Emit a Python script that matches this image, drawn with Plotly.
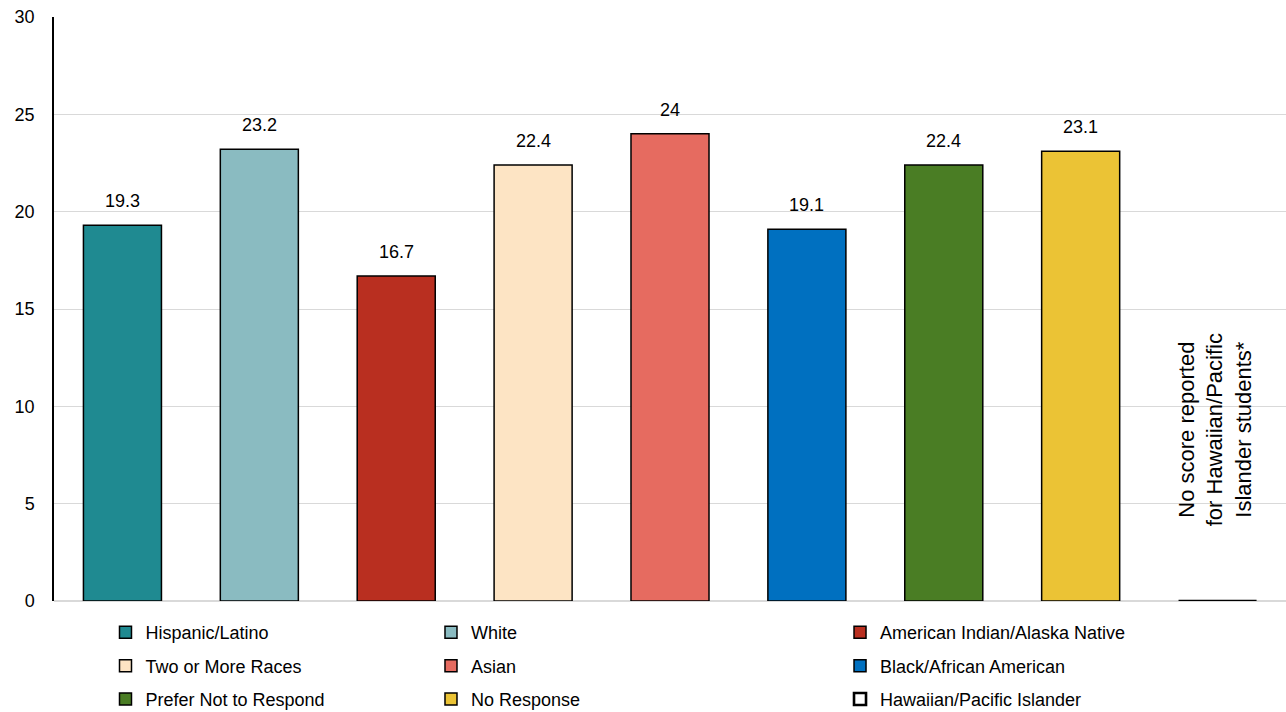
import plotly.graph_objects as go

# Category order along the x axis
groups = [
    "Hispanic/Latino", "White", "American Indian/Alaska Native",
    "Two or More Races", "Asian", "Black/African American",
    "Prefer Not to Respond", "No Response", "Hawaiian/Pacific Islander",
]
scores = [19.3, 23.2, 16.7, 22.4, 24.0, 19.1, 22.4, 23.1, 0.0]
score_labels = ["19.3", "23.2", "16.7", "22.4", "24", "19.1", "22.4", "23.1", ""]
colors = ["#1f8a91", "#8abbc1", "#b92f20", "#fde4c4", "#e66b60",
          "#0070c0", "#4a7d24", "#ebc335", "#ffffff"]
# legend column for each group (three columns, three rows)
legend_cols = ["legend", "legend2", "legend3", "legend", "legend2",
               "legend3", "legend", "legend2", "legend3"]
outline_widths = [1.5, 1.5, 1.5, 1.5, 1.5, 1.5, 1.5, 1.5, 2.6]

FONT = "Liberation Sans, Arial, sans-serif"

fig = go.Figure()
for i, g in enumerate(groups):
    fig.add_trace(go.Bar(
        x=[g], y=[scores[i]], name=g,
        marker=dict(color=colors[i],
                    line=dict(color="#000000", width=outline_widths[i])),
        width=0.57,
        legend=legend_cols[i], legendgroup=g,
    ))
    # value label above each bar
    if score_labels[i]:
        fig.add_annotation(
            x=g, y=scores[i], xref="x", yref="y", text=score_labels[i],
            showarrow=False, yanchor="bottom", yshift=12,
            font=dict(size=18, color="#000000", family=FONT),
        )

fig.add_annotation(
    x=groups[-1], y=8.8, xref="x", yref="y", xshift=-3,
    text="No score reported<br>for Hawaiian/Pacific<br>Islander students*",
    textangle=-90, showarrow=False,
    font=dict(size=22, color="#000000", family=FONT),
)

legend_style = dict(
    orientation="v", yanchor="top", xanchor="left",
    yref="container", y=0.1376,
    font=dict(size=18, color="#000000", family=FONT),
    bgcolor="rgba(0,0,0,0)", tracegroupgap=7, itemwidth=30,
)

fig.update_layout(
    width=1286, height=712,
    margin=dict(l=54, r=0, t=17, b=111),
    paper_bgcolor="#ffffff", plot_bgcolor="#ffffff",
    barmode="overlay", bargap=0.43,
    font=dict(family=FONT, size=18, color="#000000"),
    showlegend=True,
    legend=dict(legend_style, x=0.0418),
    legend2=dict(legend_style, x=0.306),
    legend3=dict(legend_style, x=0.638),
    xaxis=dict(showticklabels=False, showline=False, ticks="",
               showgrid=False, zeroline=False),
    yaxis=dict(range=[0, 30], dtick=5, showgrid=True, gridcolor="#d9d9d9",
               gridwidth=1, zeroline=True, zerolinecolor="#d9d9d9",
               showline=True, linecolor="#000000", linewidth=1.5,
               ticks="", ticklabelstandoff=14,
               tickfont=dict(size=18, color="#000000", family=FONT)),
)

fig.write_html("out.html")
